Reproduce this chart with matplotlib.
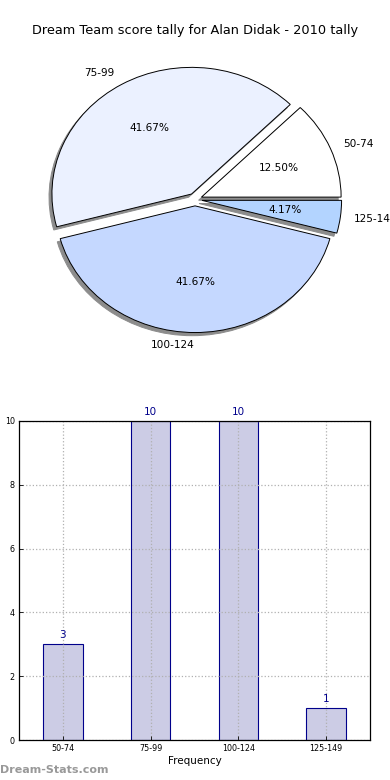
import matplotlib
matplotlib.use('Agg')
import matplotlib.pyplot as plt
import numpy as np

# score tally data
categories = ['50-74', '75-99', '100-124', '125-149']
counts = [3, 10, 10, 1]
pie_colors = ['#ffffff', '#ebf1ff', '#c5d8ff', '#b3d4ff']
explode = [0.05, 0.05, 0.05, 0.05]

fig = plt.figure(figsize=(3.9, 7.8), dpi=100)

# pie chart
ax1 = fig.add_axes([0.0526, 0.5412, 0.895, 0.406])
wedges, texts, autotexts = ax1.pie(counts, labels=categories, colors=pie_colors,
                                   explode=explode, autopct='%1.2f%%',
                                   shadow={'ox': -0.015, 'oy': -0.018, 'facecolor': '#8c8c8c',
                                           'edgecolor': '#8c8c8c', 'alpha': 1},
                                   startangle=0, labeldistance=1.1, pctdistance=0.6,
                                   wedgeprops={'edgecolor': 'black', 'linewidth': 0.7},
                                   textprops={'fontsize': 7.6})
ax1.set_aspect('auto')
ax1.set_xlim(-1.25, 1.25)
ax1.set_ylim(-1.25, 1.25)
ax1.axis('off')
for t in texts:
    t.set_clip_on(False)
fig.text(0.5, 0.961, 'Dream Team score tally for Alan Didak - 2010 tally',
         ha='center', va='center', fontsize=9.3)

# bar chart
ax2 = fig.add_axes([19 / 390, 40 / 780, 351 / 390, 319 / 780])
x = np.arange(len(categories))
bars = ax2.bar(x, counts, width=0.45, color='#cccce5', edgecolor='darkblue', linewidth=0.8,
               zorder=1)
for xi, c in zip(x, counts):
    ax2.text(xi, c + 0.12, str(c), ha='center', va='bottom', color='darkblue', fontsize=7.5)
ax2.set_xlim(-0.5, 3.5)
ax2.set_ylim(0, 10)
ax2.set_xticks(x)
ax2.set_xticklabels(categories)
ax2.set_yticks([0, 2, 4, 6, 8, 10])
ax2.tick_params(labelsize=5.8, direction='in', length=3, width=0.6, pad=3)
ax2.set_axisbelow('line')
ax2.grid(True, linestyle=':', color='#b0b0b0', linewidth=0.9)
for s in ax2.spines.values():
    s.set_linewidth(0.9)
    s.set_zorder(5)
ax2.set_xlabel('Frequency', fontsize=7.5, labelpad=2)
ax2.set_ylabel('Score Interval Tally', fontsize=7.5, labelpad=4)

fig.text(0.0, 0.006, 'Dream-Stats.com', fontsize=8, color='#999999', fontweight='bold',
         ha='left', va='bottom')

fig.savefig('out.png', dpi=100)
